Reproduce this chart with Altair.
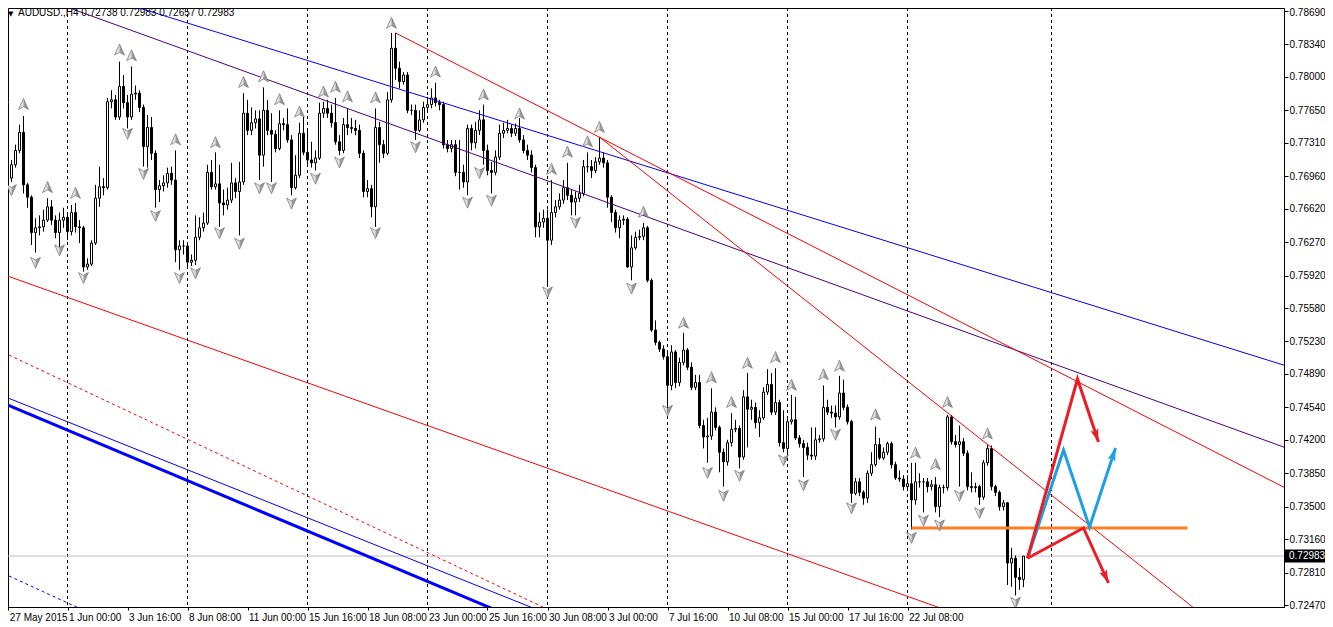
import math
import altair as alt
import pandas as pd

# ---------------- data ----------------
first_open = 0.7765
closes = [
    0.7731, 0.7694, 0.7708, 0.7723, 0.7742, 0.7687, 0.7674, 0.7637, 0.7642, 0.7643,
    0.7650, 0.7664, 0.7650, 0.7637, 0.7650, 0.7653, 0.7638, 0.7658, 0.7643, 0.7642,
    0.7601, 0.7604, 0.7626, 0.7673, 0.7685, 0.7684, 0.7774, 0.7776, 0.7758, 0.7790,
    0.7773, 0.7758, 0.7782, 0.7783, 0.7768, 0.7727, 0.7747, 0.7720, 0.7682, 0.7686,
    0.7689, 0.7699, 0.7692, 0.7619, 0.7623, 0.7623, 0.7606, 0.7608, 0.7632, 0.7642,
    0.7647, 0.7700, 0.7685, 0.7688, 0.7668, 0.7666, 0.7671, 0.7689, 0.7680, 0.7690,
    0.7762, 0.7744, 0.7752, 0.7756, 0.7718, 0.7765, 0.7744, 0.7740, 0.7725, 0.7751,
    0.7750, 0.7734, 0.7684, 0.7697, 0.7741, 0.7721, 0.7713, 0.7710, 0.7715, 0.7762,
    0.7767, 0.7762, 0.7752, 0.7732, 0.7723, 0.7750, 0.7747, 0.7746, 0.7744, 0.7720,
    0.7680, 0.7683, 0.7664, 0.7747, 0.7729, 0.7720, 0.7776, 0.7830, 0.7809, 0.7795,
    0.7802, 0.7765, 0.7765, 0.7744, 0.7755, 0.7768, 0.7771, 0.7778, 0.7773, 0.7771,
    0.7729, 0.7725, 0.7729, 0.7700, 0.7700, 0.7690, 0.7746, 0.7731, 0.7744, 0.7755,
    0.7723, 0.7702, 0.7700, 0.7716, 0.7741, 0.7744, 0.7746, 0.7741, 0.7746, 0.7734,
    0.7723, 0.7718, 0.7705, 0.7643, 0.7648, 0.7652, 0.7629, 0.7658, 0.7664, 0.7671,
    0.7684, 0.7676, 0.7669, 0.7673, 0.7678, 0.7706, 0.7706, 0.7702, 0.7711, 0.7715,
    0.7710, 0.7674, 0.7658, 0.7642, 0.7650, 0.7651, 0.7601, 0.7621, 0.7632, 0.7633,
    0.7642, 0.7587, 0.7535, 0.7522, 0.7515, 0.7507, 0.7477, 0.7512, 0.7480, 0.7501,
    0.7514, 0.7496, 0.7475, 0.7480, 0.7435, 0.7423, 0.7424, 0.7449, 0.7433, 0.7407,
    0.7397, 0.7417, 0.7431, 0.7432, 0.7402, 0.7465, 0.7452, 0.7454, 0.7438, 0.7443,
    0.7470, 0.7478, 0.7449, 0.7459, 0.7417, 0.7411, 0.7439, 0.7441, 0.7422, 0.7416,
    0.7412, 0.7404, 0.7403, 0.7420, 0.7421, 0.7454, 0.7449, 0.7448, 0.7444, 0.7469,
    0.7454, 0.7439, 0.7364, 0.7376, 0.7365, 0.7359, 0.7385, 0.7394, 0.7415, 0.7401,
    0.7407, 0.7416, 0.7394, 0.7380, 0.7379, 0.7371, 0.7374, 0.7357, 0.7376, 0.7376,
    0.7376, 0.7371, 0.7373, 0.7350, 0.7370, 0.7370, 0.7444, 0.7418, 0.7415, 0.7418,
    0.7406, 0.7371, 0.7370, 0.7371, 0.7360, 0.7396, 0.7411, 0.7371, 0.7365, 0.7350,
    0.7354, 0.7291, 0.7296, 0.7276, 0.72738, 0.72983,
]
highs = [
    0.7771, 0.7734, 0.7713, 0.7729, 0.7750, 0.7759, 0.7689, 0.7676, 0.7652, 0.7655,
    0.7661, 0.7673, 0.7671, 0.7655, 0.7658, 0.7663, 0.7658, 0.7666, 0.7668, 0.7650,
    0.7644, 0.7610, 0.7629, 0.7687, 0.7706, 0.7694, 0.7778, 0.7786, 0.7781, 0.7816,
    0.7802, 0.7781, 0.7811, 0.7791, 0.7786, 0.7771, 0.7760, 0.7758, 0.7723, 0.7692,
    0.7697, 0.7705, 0.7706, 0.7723, 0.7629, 0.7629, 0.7625, 0.7614, 0.7655, 0.7653,
    0.7658, 0.7708, 0.7713, 0.7721, 0.7708, 0.7682, 0.7684, 0.7710, 0.7694, 0.7711,
    0.7783, 0.7776, 0.7768, 0.7765, 0.7765, 0.7789, 0.7776, 0.7762, 0.7744, 0.7765,
    0.7757, 0.7767, 0.7739, 0.7718, 0.7752, 0.7758, 0.7744, 0.7732, 0.7723, 0.7773,
    0.7774, 0.7776, 0.7771, 0.7778, 0.7739, 0.7757, 0.7767, 0.7757, 0.7755, 0.7750,
    0.7723, 0.7692, 0.7687, 0.7767, 0.7753, 0.7734, 0.7784, 0.7846, 0.7846, 0.7816,
    0.7805, 0.7805, 0.7771, 0.7771, 0.7765, 0.7774, 0.7779, 0.7788, 0.7794, 0.7776,
    0.7774, 0.7734, 0.7734, 0.7734, 0.7734, 0.7708, 0.7750, 0.7750, 0.7753, 0.7765,
    0.7771, 0.7729, 0.7711, 0.7723, 0.7750, 0.7752, 0.7755, 0.7750, 0.7751, 0.7757,
    0.7739, 0.7729, 0.7723, 0.7708, 0.7658, 0.7661, 0.7661, 0.7692, 0.7671, 0.7678,
    0.7692, 0.7710, 0.7682, 0.7680, 0.7687, 0.7713, 0.7721, 0.7713, 0.7716, 0.7737,
    0.7721, 0.7713, 0.7676, 0.7661, 0.7655, 0.7655, 0.7653, 0.7634, 0.7638, 0.7640,
    0.7647, 0.7644, 0.7589, 0.7545, 0.7524, 0.7519, 0.7514, 0.7519, 0.7514, 0.7506,
    0.7532, 0.7516, 0.7501, 0.7488, 0.7488, 0.7441, 0.7443, 0.7474, 0.7454, 0.7435,
    0.7411, 0.7420, 0.7448, 0.7441, 0.7435, 0.7472, 0.7490, 0.7462, 0.7459, 0.7451,
    0.7475, 0.7494, 0.7490, 0.7495, 0.7462, 0.7451, 0.7443, 0.7467, 0.7465, 0.7425,
    0.7420, 0.7417, 0.7433, 0.7433, 0.7425, 0.7477, 0.7462, 0.7456, 0.7456, 0.7487,
    0.7483, 0.7457, 0.7441, 0.7380, 0.7380, 0.7367, 0.7388, 0.7407, 0.7434, 0.7422,
    0.7412, 0.7418, 0.7418, 0.7397, 0.7388, 0.7383, 0.7383, 0.7396, 0.7396, 0.7385,
    0.7380, 0.7380, 0.7378, 0.7381, 0.7373, 0.7373, 0.7446, 0.7446, 0.7425, 0.7435,
    0.7422, 0.7409, 0.7386, 0.7375, 0.7373, 0.7399, 0.7415, 0.7414, 0.7373, 0.7367,
    0.7357, 0.7355, 0.7307, 0.7299, 0.7286, 0.72983,
]
lows = [
    0.7723, 0.7690, 0.7690, 0.7705, 0.7720, 0.7678, 0.7663, 0.7624, 0.7616, 0.7634,
    0.7638, 0.7648, 0.7645, 0.7631, 0.7622, 0.7642, 0.7629, 0.7634, 0.7637, 0.7626,
    0.7596, 0.7598, 0.7602, 0.7624, 0.7664, 0.7676, 0.7682, 0.7767, 0.7755, 0.7755,
    0.7767, 0.7746, 0.7755, 0.7776, 0.7763, 0.7706, 0.7705, 0.7713, 0.7663, 0.7669,
    0.7680, 0.7684, 0.7687, 0.7606, 0.7598, 0.7614, 0.7601, 0.7602, 0.7603, 0.7629,
    0.7638, 0.7645, 0.7682, 0.7682, 0.7643, 0.7655, 0.7661, 0.7668, 0.7673, 0.7634,
    0.7687, 0.7739, 0.7739, 0.7746, 0.7692, 0.7706, 0.7739, 0.7690, 0.7721, 0.7723,
    0.7744, 0.7731, 0.7676, 0.7682, 0.7694, 0.7718, 0.7708, 0.7705, 0.7702, 0.7713,
    0.7757, 0.7757, 0.7747, 0.7729, 0.7718, 0.7720, 0.7739, 0.7741, 0.7739, 0.7715,
    0.7674, 0.7674, 0.7653, 0.7643, 0.7710, 0.7715, 0.7718, 0.7773, 0.7797, 0.7788,
    0.7792, 0.7762, 0.7760, 0.7734, 0.7742, 0.7752, 0.7765, 0.7767, 0.7769, 0.7765,
    0.7725, 0.7721, 0.7721, 0.7696, 0.7682, 0.7684, 0.7676, 0.7723, 0.7725, 0.7739,
    0.7708, 0.7697, 0.7678, 0.7697, 0.7713, 0.7736, 0.7741, 0.7737, 0.7738, 0.7731,
    0.7720, 0.7713, 0.7700, 0.7632, 0.7632, 0.7642, 0.7582, 0.7624, 0.7653, 0.7661,
    0.7667, 0.7671, 0.7655, 0.7655, 0.7669, 0.7675, 0.7700, 0.7694, 0.7699, 0.7708,
    0.7705, 0.7663, 0.7648, 0.7637, 0.7631, 0.7645, 0.7600, 0.7587, 0.7619, 0.7629,
    0.7629, 0.7585, 0.7533, 0.7519, 0.7512, 0.7504, 0.7449, 0.7472, 0.7474, 0.7476,
    0.7498, 0.7493, 0.7472, 0.7472, 0.7432, 0.7411, 0.7396, 0.7420, 0.7430, 0.7386,
    0.7371, 0.7393, 0.7413, 0.7428, 0.7390, 0.7399, 0.7412, 0.7441, 0.7432, 0.7423,
    0.7441, 0.7467, 0.7446, 0.7446, 0.7413, 0.7407, 0.7407, 0.7436, 0.7420, 0.7412,
    0.7381, 0.7399, 0.7399, 0.7399, 0.7417, 0.7418, 0.7446, 0.7443, 0.7433, 0.7441,
    0.7451, 0.7436, 0.7354, 0.7362, 0.7361, 0.7352, 0.7354, 0.7382, 0.7392, 0.7399,
    0.7399, 0.7404, 0.7390, 0.7378, 0.7376, 0.7367, 0.7367, 0.7326, 0.7352, 0.7370,
    0.7344, 0.7365, 0.7367, 0.7344, 0.7339, 0.7364, 0.7367, 0.7415, 0.7412, 0.7371,
    0.7403, 0.7367, 0.7365, 0.7365, 0.7352, 0.7357, 0.7393, 0.7367, 0.7361, 0.7346,
    0.7346, 0.7268, 0.7266, 0.7257, 0.7263, 0.72657,
]

price_ticks = [0.78690, 0.78340, 0.78000, 0.77650, 0.77310, 0.76960, 0.76620, 0.76270,
               0.75920, 0.75580, 0.75230, 0.74890, 0.74540, 0.74200, 0.73850, 0.73500,
               0.73160, 0.72810, 0.72470]
time_tick_bars = [1.2, 16, 31, 46, 61, 76, 91, 106, 121, 136, 151, 166, 181, 196, 211, 226]
time_tick_labels = ["27 May 2015", "1 Jun 00:00", "3 Jun 16:00", "8 Jun 08:00", "11 Jun 00:00",
                    "15 Jun 16:00", "18 Jun 08:00", "23 Jun 00:00", "25 Jun 16:00", "30 Jun 08:00",
                    "3 Jul 00:00", "7 Jul 16:00", "10 Jul 08:00", "15 Jul 00:00", "17 Jul 16:00",
                    "22 Jul 08:00"]
grid_bars = [16, 46, 76, 106, 136, 166, 196, 226, 262]
bid_price = 0.72983
title_text = "AUDUSD.,H4  0.72738 0.72983 0.72657 0.72983"

# trend lines (bar, price) end points
blue_upper_bars, blue_upper_prices = [0, 322], [0.79165, 0.74957]
purple_bars, purple_prices = [0, 322], [0.78971, 0.74095]
red_a_bars, red_a_prices = [98, 322], [0.78460, 0.73663]
red_b_bars, red_b_prices = [149, 322], [0.77370, 0.71630]
red_c_bars, red_c_prices = [0, 322], [0.75930, 0.71130]
red_dash_bars, red_dash_prices = [0, 160], [0.75115, 0.71952]
blue_thin_bars, blue_thin_prices = [0, 150], [0.74657, 0.72144]
blue_thick_bars, blue_thick_prices = [0, 150], [0.74582, 0.71944]
blue_dash_bars, blue_dash_prices = [0, 50], [0.72801, 0.71838]
orange_bars, orange_prices = [227, 296], [0.73277, 0.73277]

# forecast arrows
red1_bars, red1_prices = [256, 268.5, 273.75], [0.72960, 0.74837, 0.74177]
red2_bars, red2_prices = [256, 270, 276.25], [0.72960, 0.73277, 0.72701]
blue_bars, blue_prices = [256, 265, 271.5, 278], [0.72960, 0.74094, 0.73287, 0.74115]

# fractal markers
frac_up_bars = [0, 5, 11, 18, 29, 32, 43, 53, 60, 65, 69, 74, 80, 83, 86, 93, 97, 108, 120, 129,
                137, 141, 146, 149, 160, 170, 177, 182, 186, 193, 197, 205, 209, 218, 228, 233, 236, 246]
frac_up_prices = [0.7778, 0.7771, 0.7684, 0.7678, 0.7828, 0.7822, 0.7734, 0.7731, 0.7794, 0.7800,
                  0.7776, 0.7763, 0.7784, 0.7789, 0.7779, 0.7778, 0.7856, 0.7805, 0.7781, 0.7761,
                  0.7703, 0.7721, 0.7732, 0.7747, 0.7658, 0.7542, 0.7485, 0.7459, 0.7500, 0.7506,
                  0.7477, 0.7488, 0.7497, 0.7446, 0.7406, 0.7394, 0.7459, 0.7426]
frac_dn_bars = [2, 8, 14, 20, 31, 35, 38, 44, 48, 54, 59, 64, 67, 72, 78, 84, 93, 103, 116, 119,
                122, 136, 143, 157, 166, 176, 180, 184, 195, 200, 208, 212, 227, 230, 234, 239, 244, 253]
frac_dn_prices = [0.7682, 0.7606, 0.7619, 0.7590, 0.7741, 0.7699, 0.7655, 0.7590, 0.7595, 0.7637,
                  0.7626, 0.7684, 0.7684, 0.7668, 0.7694, 0.7711, 0.7637, 0.7727, 0.7669, 0.7700,
                  0.7671, 0.7575, 0.7648, 0.7579, 0.7451, 0.7386, 0.7362, 0.7383, 0.7399, 0.7373,
                  0.7426, 0.7349, 0.7318, 0.7336, 0.7331, 0.7362, 0.7344, 0.7250]

# ---------------- layout ----------------
W, H = 1276, 599
PAD_R, PAD_B = 41, 18
X_MIN = 1.125
X_MAX = X_MIN + W / 4.0
Y_MIN, Y_MAX = 0.724497, 0.787212
FONT = "Liberation Sans"

x_scale = alt.Scale(domain=[X_MIN, X_MAX], nice=False, zero=False)
y_scale = alt.Scale(domain=[Y_MIN, Y_MAX], nice=False, zero=False)

label_expr = "''"
for b, t in reversed(list(zip(time_tick_bars, time_tick_labels))):
    label_expr = f"abs(datum.value - {b}) < 0.01 ? '{t}' : ({label_expr})"

x_axis = alt.Axis(values=time_tick_bars, labelExpr=label_expr, title=None, grid=False,
                  tickSize=3, tickColor="black", domainColor="black", labelColor="black",
                  labelFont=FONT, labelFontSize=10, labelAlign="left", labelPadding=2,
                  labelOffset=1, labelOverlap=False, labelFlush=False, labelBound=False)
y_axis = alt.Axis(orient="right", values=price_ticks, format=".5f", title=None, grid=False,
                  tickSize=4, tickColor="black", domainColor="black", labelColor="black",
                  labelFont=FONT, labelFontSize=10, labelPadding=1, labelOverlap=False,
                  labelFlush=False, labelBound=False,
                  labelBaseline={"condition": {"test": "datum.value > 0.7866", "value": "top"},
                                 "value": "middle"},
                  labelOffset={"condition": {"test": "datum.value > 0.7866", "value": -3},
                               "value": 0})


def X(f):
    return alt.X(f, type="quantitative", scale=x_scale, axis=x_axis)


def Y(f):
    return alt.Y(f, type="quantitative", scale=y_scale, axis=y_axis)


n = len(closes)
opens = [first_open] + closes[:-1]
candles = pd.DataFrame({"bar": list(range(n)), "open": opens, "high": highs,
                        "low": lows, "close": closes})

grid = alt.Chart(pd.DataFrame({"bar": grid_bars})).mark_rule(
    color="black", strokeWidth=1, strokeDash=[3, 3]).encode(x=X("bar"))

bid_line = alt.Chart(pd.DataFrame({"price": [bid_price]})).mark_rule(
    color="#c0c0c0", strokeWidth=1).encode(y=Y("price"))

wicks = alt.Chart(candles).mark_rule(color="black", strokeWidth=1, clip=True).encode(
    x=X("bar"), y=Y("low"), y2="high")

bodies = alt.Chart(candles).transform_calculate(
    xl="datum.bar - 0.25", xr="datum.bar + 0.25"
).mark_rect(stroke="black", strokeWidth=1, clip=True).encode(
    x=X("xl:Q"), x2="xr:Q", y=Y("open"), y2="close",
    fill=alt.condition("datum.close >= datum.open", alt.value("white"), alt.value("black")))


def seg(bars, prices, **mk):
    df = pd.DataFrame({"bar": bars, "price": prices, "o": list(range(len(bars)))})
    return alt.Chart(df).mark_line(clip=True, **mk).encode(
        x=X("bar"), y=Y("price"), order="o:Q")


lines = [
    seg(blue_upper_bars, blue_upper_prices, color="#0000ff", strokeWidth=1),
    seg(purple_bars, purple_prices, color="#4b0082", strokeWidth=1),
    seg(red_a_bars, red_a_prices, color="#ff0000", strokeWidth=1),
    seg(red_b_bars, red_b_prices, color="#ff0000", strokeWidth=1),
    seg(red_c_bars, red_c_prices, color="#ff0000", strokeWidth=1),
    seg(red_dash_bars, red_dash_prices, color="#ff0000", strokeWidth=1, strokeDash=[3, 3]),
    seg(blue_thin_bars, blue_thin_prices, color="#0000ff", strokeWidth=1),
    seg(blue_thick_bars, blue_thick_prices, color="#0000ff", strokeWidth=3),
    seg(blue_dash_bars, blue_dash_prices, color="#0000ff", strokeWidth=1, strokeDash=[3, 3]),
    seg(orange_bars, orange_prices, color="#ff7f27", strokeWidth=3),
    seg(blue_bars, blue_prices, color="#1ca0e3", strokeWidth=3),
    seg(red1_bars, red1_prices, color="#ed1c24", strokeWidth=3),
    seg(red2_bars, red2_prices, color="#ed1c24", strokeWidth=3),
]

px_bar = W / (X_MAX - X_MIN)
px_price = H / (Y_MAX - Y_MIN)
HEAD = "M0,0 L0.55,1.8 L0,1.4 L-0.55,1.8 Z"


def head(bars, prices, color):
    dx = (bars[-1] - bars[-2]) * px_bar
    dy = (prices[-1] - prices[-2]) * px_price
    ang = math.degrees(math.atan2(dx, dy)) % 360
    df = pd.DataFrame({"bar": [bars[-1]], "price": [prices[-1]]})
    return alt.Chart(df).mark_point(shape=HEAD, filled=True, fill=color, color=color,
                                    size=220, angle=ang, opacity=1, strokeWidth=0).encode(
        x=X("bar"), y=Y("price"))


heads = [head(blue_bars, blue_prices, "#1ca0e3"),
         head(red1_bars, red1_prices, "#ed1c24"),
         head(red2_bars, red2_prices, "#ed1c24")]

up_df = pd.DataFrame({"bar": frac_up_bars, "price": frac_up_prices})
dn_df = pd.DataFrame({"bar": frac_dn_bars, "price": frac_dn_prices})
UP_L = "M0,-1 L0,0.35 L-0.8,0.8 Z"
UP_R = "M0,-1 L0.8,0.8 L0,0.35 Z"
UP_O = "M0,-1 L0.8,0.8 L0,0.35 L-0.8,0.8 Z"
DN_L = "M0,1 L0,-0.35 L-0.8,-0.8 Z"
DN_R = "M0,1 L0.8,-0.8 L0,-0.35 Z"
DN_O = "M0,1 L0.8,-0.8 L0,-0.35 L-0.8,-0.8 Z"
GLYPH_SIZE = 150


def glyph_fill(df, shape, fill):
    return alt.Chart(df).mark_point(shape=shape, filled=True, fill=fill, size=GLYPH_SIZE,
                                    opacity=1, strokeWidth=0, clip=True).encode(
        x=X("bar"), y=Y("price"))


def glyph_outline(df, shape, stroke):
    return alt.Chart(df).mark_point(shape=shape, filled=False, stroke=stroke, size=GLYPH_SIZE,
                                    opacity=1, strokeWidth=0.7, clip=True).encode(
        x=X("bar"), y=Y("price"))


fractals = [
    glyph_fill(up_df, UP_L, "#e2e2e2"), glyph_fill(up_df, UP_R, "#9c9c9c"),
    glyph_outline(up_df, UP_O, "#707070"),
    glyph_fill(dn_df, DN_L, "#e2e2e2"), glyph_fill(dn_df, DN_R, "#9c9c9c"),
    glyph_outline(dn_df, DN_O, "#707070"),
]

title_df = pd.DataFrame({"t": [title_text], "m": ["\u25bc"]})
title_mark = alt.Chart(title_df).mark_text(
    align="left", baseline="top", font=FONT, fontSize=10, color="black").encode(
    x=alt.value(10), y=alt.value(0), text="t:N")
title_tri = alt.Chart(title_df).mark_text(
    align="left", baseline="top", font="DejaVu Sans", fontSize=7, color="black").encode(
    x=alt.value(0), y=alt.value(2), text="m:N")

bid_df = pd.DataFrame({"price": [bid_price], "label": [f"{bid_price:.5f}"]})
bid_box = alt.Chart(bid_df).mark_rect(color="black", height=13).encode(
    x=alt.value(W + 1), x2=alt.value(W + PAD_R), y=Y("price"))
bid_text = alt.Chart(bid_df).mark_text(
    align="left", baseline="middle", font=FONT, fontSize=10, color="white").encode(
    x=alt.value(W + 5), y=Y("price"), text="label:N")

chart = alt.layer(
    grid, bid_line, wicks, bodies, *lines, *heads, *fractals,
    title_tri, title_mark, bid_box, bid_text
).properties(
    width=W, height=H,
    autosize=alt.AutoSizeParams(type="none"),
    padding={"left": 0, "top": 0, "right": PAD_R, "bottom": PAD_B},
    background="white",
).configure_view(stroke="black", strokeWidth=1)

chart.save("out.html", embed_options={"renderer": "svg", "actions": False})
